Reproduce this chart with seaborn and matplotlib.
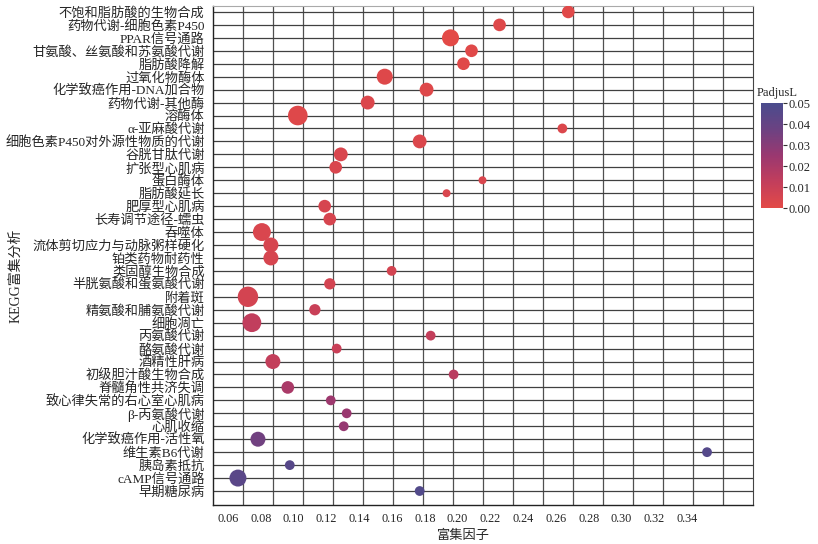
import numpy as np
import pandas as pd
import matplotlib
matplotlib.use("Agg")
import matplotlib.pyplot as plt
import seaborn as sns
from matplotlib.colors import LinearSegmentedColormap, Normalize
from matplotlib.cm import ScalarMappable

terms = [
    "不饱和脂肪酸的生物合成", "药物代谢-细胞色素P450", "PPAR信号通路",
    "甘氨酸、丝氨酸和苏氨酸代谢", "脂肪酸降解", "过氧化物酶体",
    "化学致癌作用-DNA加合物", "药物代谢-其他酶", "溶酶体", "α-亚麻酸代谢",
    "细胞色素P450对外源性物质的代谢", "谷胱甘肽代谢", "扩张型心肌病", "蛋白酶体",
    "脂肪酸延长", "肥厚型心肌病", "长寿调节途径-蠕虫", "吞噬体",
    "流体剪切应力与动脉粥样硬化", "铂类药物耐药性", "类固醇生物合成",
    "半胱氨酸和蛋氨酸代谢", "附着斑", "精氨酸和脯氨酸代谢", "细胞凋亡",
    "丙氨酸代谢", "酪氨酸代谢", "酒精性肝病", "初级胆汁酸生物合成",
    "脊髓角性共济失调", "致心律失常的右心室心肌病", "β-丙氨酸代谢", "心肌收缩",
    "化学致癌作用-活性氧", "维生素B6代谢", "胰岛素抵抗", "cAMP信号通路", "早期糖尿病",
]
rich_factor = [
    0.2675, 0.2256, 0.1957, 0.2085, 0.2036, 0.1556, 0.1811, 0.1452, 0.1026, 0.2639,
    0.1769, 0.1288, 0.1257, 0.2152, 0.1933, 0.1190, 0.1221, 0.0807, 0.0862, 0.0862,
    0.1598, 0.1221, 0.0722, 0.1130, 0.0746, 0.1836, 0.1263, 0.0874, 0.1976, 0.0965,
    0.1227, 0.1324, 0.1306, 0.0783, 0.3521, 0.0977, 0.0661, 0.1769,
]
gene_count = [
    5, 5, 9, 5, 5, 8, 6, 6, 12, 3,
    6, 6, 5, 2, 2, 5, 5, 10, 7, 7,
    3, 4, 13, 4, 11, 3, 3, 7, 3, 5,
    3, 3, 3, 7, 3, 3, 9, 3,
]
padj = [
    0.001, 0.002, 0.000, 0.001, 0.001, 0.002, 0.002, 0.003, 0.002, 0.003,
    0.003, 0.004, 0.004, 0.004, 0.004, 0.005, 0.005, 0.004, 0.005, 0.005,
    0.006, 0.006, 0.006, 0.010, 0.013, 0.012, 0.010, 0.012, 0.015, 0.020,
    0.024, 0.025, 0.026, 0.036, 0.046, 0.045, 0.044, 0.047,
]
x_ticks = [0.06, 0.08, 0.10, 0.12, 0.14, 0.16, 0.18, 0.20, 0.22, 0.24, 0.26, 0.28, 0.30, 0.32, 0.34]
cbar_ticks = [0.00, 0.01, 0.02, 0.03, 0.04, 0.05]

df = pd.DataFrame({"term": terms, "ratio": rich_factor, "count": gene_count, "padj": padj})

sns.set_style("white")
plt.rcParams["font.family"] = ["Liberation Serif", "Noto Sans CJK SC", "DejaVu Sans"]

cmap = LinearSegmentedColormap.from_list(
    "padj",
    [(0.0, "#E34A47"), (0.25, "#C23E5C"), (0.5, "#9A3870"), (0.75, "#6C4282"), (1.0, "#4A4C8D")],
)

fig = plt.figure(figsize=(8.18, 5.44), dpi=100)
ax = fig.add_axes([0.2604, 0.0717, 0.6601, 0.9173])

sns.scatterplot(
    data=df, x="ratio", y="term", hue="padj", size="count",
    palette=cmap, hue_norm=(0, 0.05), sizes=(33, 216),
    linewidth=0, alpha=1, legend=False, ax=ax, zorder=3,
)

n = len(terms)
xmin, xmax = 0.0509, 0.3801
ax.set_xlim(xmin, xmax)
ax.set_ylim(n - 1 + 1.08, -0.46)
ax.set_yticks(range(n))
ax.set_yticklabels(terms, fontsize=9.5)
ax.set_xticks(x_ticks)
ax.set_xticklabels([f"{t:.2f}" for t in x_ticks], fontsize=8.8)
ax.set_xticks(np.linspace(xmin, xmax, 19)[1:-1], minor=True)

ax.grid(False)
ax.xaxis.grid(True, which="minor", color="#505050", linewidth=0.9)
ax.yaxis.grid(True, which="major", color="#404040", linewidth=0.9)
ax.set_axisbelow(True)
ax.tick_params(axis="both", which="both", length=0)
ax.tick_params(axis="y", pad=6)
ax.tick_params(axis="x", pad=6)

for side in ["left", "bottom"]:
    ax.spines[side].set_color("#222222")
    ax.spines[side].set_linewidth(1.0)
ax.spines["top"].set_color("#aaaaaa")
ax.spines["right"].set_color("#444444")

ax.set_xlabel("富集因子", fontsize=9.5)
ax.xaxis.set_label_coords(0.463, -0.05)
ax.set_ylabel("KEGG富集分析", fontsize=10)
ax.yaxis.set_label_coords(-0.354, 0.46)

cax = fig.add_axes([0.930, 0.6176, 0.0269, 0.193])
sm = ScalarMappable(norm=Normalize(0, 0.05), cmap=cmap)
cb = fig.colorbar(sm, cax=cax, ticks=cbar_ticks)
cb.outline.set_visible(False)
cb.ax.set_yticklabels([f"{t:.2f}" for t in cbar_ticks], fontsize=9)
cb.ax.tick_params(length=3, width=0.8, color="#333333", pad=1)
fig.text(0.925, 0.829, "PadjusL", fontsize=9, ha="left", va="center")

fig.savefig("out.png", dpi=100)
